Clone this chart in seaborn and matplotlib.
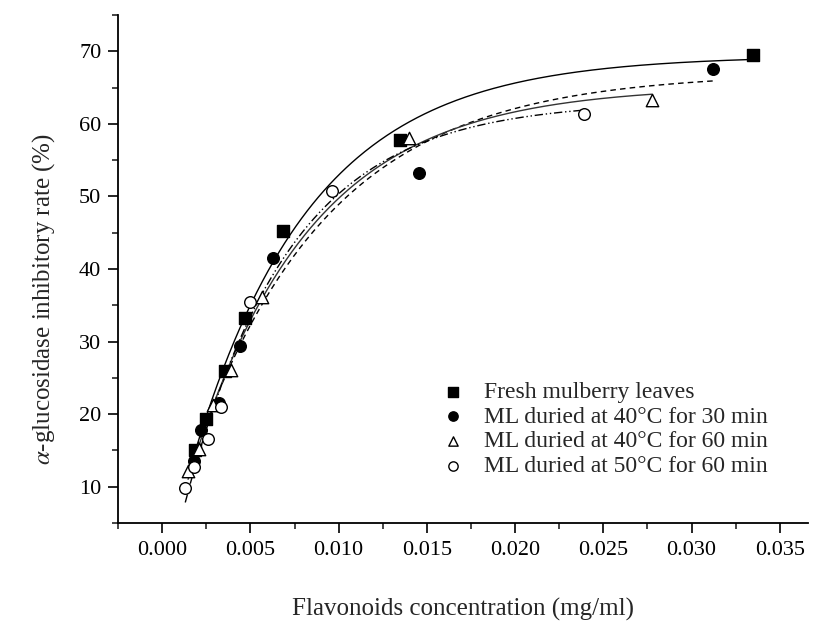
import numpy as np
import pandas as pd
import matplotlib
matplotlib.use("Agg")
import matplotlib.pyplot as plt
import seaborn as sns
from matplotlib.ticker import MultipleLocator, FormatStrFormatter

# ---- data ----
series_names = [
    "Fresh mulberry leaves",
    "ML duried at 40\u00b0C for 30 min",
    "ML duried at 40\u00b0C for 60 min",
    "ML duried at 50\u00b0C for 60 min",
]
fresh_x = [0.00188, 0.00248, 0.00354, 0.00467, 0.00687, 0.01349, 0.03346]
fresh_y = [15.1, 19.4, 26.0, 33.2, 45.3, 57.8, 69.5]
d40_30_x = [0.00179, 0.00222, 0.00323, 0.00442, 0.00626, 0.01456, 0.03120]
d40_30_y = [13.5, 17.8, 21.6, 29.4, 41.5, 53.3, 67.5]
d40_60_x = [0.00147, 0.00210, 0.00290, 0.00391, 0.00568, 0.01400, 0.02775]
d40_60_y = [12.2, 15.2, 21.3, 26.1, 36.1, 58.0, 63.3]
d50_60_x = [0.00131, 0.00182, 0.00258, 0.00335, 0.00498, 0.00965, 0.02393]
d50_60_y = [9.8, 12.7, 16.6, 21.0, 35.4, 50.7, 61.3]

xs = [fresh_x, d40_30_x, d40_60_x, d50_60_x]
ys = [fresh_y, d40_30_y, d40_60_y, d50_60_y]

frames = []
for name, x, y in zip(series_names, xs, ys):
    frames.append(pd.DataFrame({"conc": x, "rate": y, "sample": name}))
df = pd.concat(frames, ignore_index=True)


def fit_expdec(x, y):
    """Fit y = y0 + A*exp(-x/t) by grid search on t with linear LSQ."""
    x = np.asarray(x); y = np.asarray(y)
    best = None
    for t in np.linspace(0.001, 0.05, 2000):
        M = np.column_stack([np.ones_like(x), np.exp(-x / t)])
        coef, res, *_ = np.linalg.lstsq(M, y, rcond=None)
        r = np.sum((M @ coef - y) ** 2)
        if best is None or r < best[0]:
            best = (r, coef, t)
    _, coef, t = best
    return lambda xx: coef[0] + coef[1] * np.exp(-xx / t)


sns.set_theme(style="ticks")
plt.rcParams["font.family"] = ["Liberation Serif", "DejaVu Serif"]
plt.rcParams["mathtext.fontset"] = "stix"

fig = plt.figure(figsize=(8.22, 6.26), dpi=100)
ax = fig.add_axes([0.1436, 0.1645, 0.8394, 0.8115])

markers = ["s", "o", "^", "o"]
faces = ["black", "black", "white", "white"]
line_styles = ["-", (0, (4, 3)), "-", (0, (6, 2, 1, 2, 1, 2))]
line_colors = ["black", "black", "#333333", "black"]

for i, name in enumerate(series_names):
    sub = df[df["sample"] == name]
    f = fit_expdec(sub["conc"], sub["rate"])
    xx = np.linspace(sub["conc"].min(), sub["conc"].max(), 300)
    sns.lineplot(x=xx, y=f(xx), ax=ax, color=line_colors[i],
                 linestyle=line_styles[i], linewidth=1.0, estimator=None,
                 sort=False, legend=False, zorder=2)

for i, name in enumerate(series_names):
    sub = df[df["sample"] == name]
    sns.scatterplot(data=sub, x="conc", y="rate", ax=ax, marker=markers[i],
                    s=70 if markers[i] != "^" else 80, facecolor=faces[i],
                    edgecolor="black", linewidth=1.0, label=name, zorder=3)

ax.set_xlim(-0.0025, 0.0366)
ax.set_ylim(5, 75)
ax.xaxis.set_major_locator(MultipleLocator(0.005))
ax.xaxis.set_minor_locator(MultipleLocator(0.0025))
ax.xaxis.set_major_formatter(FormatStrFormatter("%.3f"))
ax.yaxis.set_major_locator(MultipleLocator(10))
ax.yaxis.set_minor_locator(MultipleLocator(5))
ax.tick_params(axis="both", which="major", direction="out", length=7,
               width=1.2, labelsize=16, colors="black")
ax.tick_params(axis="both", which="minor", direction="out", length=4.5,
               width=1.2)
ax.tick_params(axis="x", which="major", pad=6)
ax.tick_params(axis="y", which="major", pad=5)

for sp in ["top", "right"]:
    ax.spines[sp].set_visible(False)
for sp in ["left", "bottom"]:
    ax.spines[sp].set_linewidth(1.3)
    ax.spines[sp].set_color("black")

ax.set_xlabel("Flavonoids concentration (mg/ml)", fontsize=18, labelpad=27)
ax.set_ylabel(r"$\mathit{\alpha}$-glucosidase inhibitory rate (%)",
              fontsize=18, labelpad=15)
ax.yaxis.set_label_coords(-0.089, 0.44)

leg = ax.legend(loc="upper left", bbox_to_anchor=(0.469, 0.279), frameon=False,
                fontsize=17, handletextpad=0.8, labelspacing=0.14,
                borderaxespad=0, borderpad=0, handlelength=1.0)
for h in leg.legend_handles:
    h.set_sizes([45])

fig.savefig("out.png", dpi=100)
